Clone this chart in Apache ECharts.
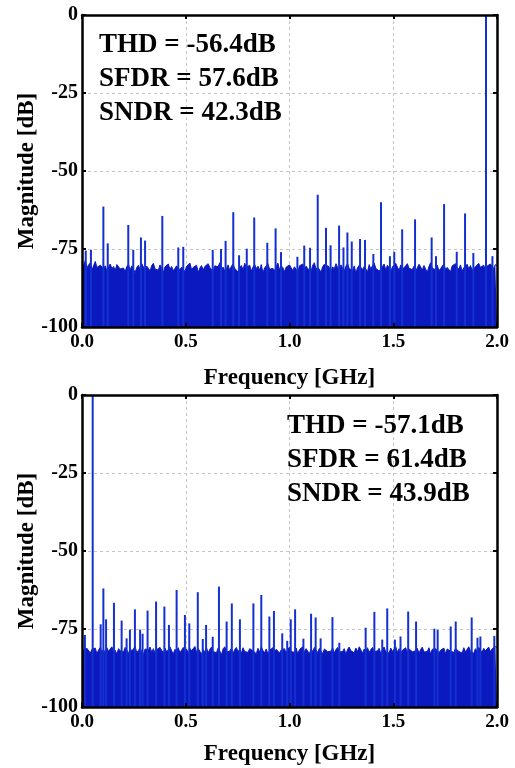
<!DOCTYPE html>
<html>
<head>
<meta charset="utf-8">
<script src="https://cdn.jsdelivr.net/npm/echarts@6/dist/echarts.min.js"></script>
<style>
html,body{margin:0;padding:0;background:#fff;}
#chart{width:515px;height:768px;}
</style>
</head>
<body>
<div id="chart"></div>
<script>
// ---------- DATA ----------
const binStepGHz = 0.008;
const xTicks = [0.0, 0.5, 1.0, 1.5, 2.0];
const yTicks = [-100, -75, -50, -25, 0];

const topNoise = [
-79.2,-80.5,-78.6,-81.0,-80.1,-79.4,-81.8,-80.3,-79.0,-80.9,-81.5,-80.2,-79.6,-81.2,-80.4,-82.0,-80.7,-79.8,-81.3,-80.6,-81.9,-80.0,-79.5,-81.4,-80.8,
-81.1,-82.3,-80.6,-79.9,-81.7,-80.4,-81.0,-82.6,-80.9,-80.2,-81.6,-79.7,-80.8,-81.9,-80.5,-81.2,-82.1,-80.3,-79.6,-81.4,-80.9,-81.8,-80.1,-81.3,-82.4,
-80.7,-81.0,-79.8,-81.5,-80.6,-82.0,-81.2,-80.4,-79.9,-81.7,-80.8,-81.3,-82.2,-80.5,-81.0,-79.5,-81.6,-80.9,-81.4,-80.2,-82.5,-81.1,-80.3,-81.8,-80.6,
-81.2,-79.7,-80.9,-81.5,-82.3,-80.4,-81.0,-80.7,-79.4,-81.6,-80.8,-82.0,-81.3,-80.1,-81.9,-80.5,-79.8,-81.2,-80.6,-82.4,-81.0,-80.3,-81.7,-79.6,-80.9,
-81.4,-80.2,-82.1,-80.8,-79.9,-81.3,-80.5,-81.8,-80.0,-82.6,-81.1,-80.4,-79.7,-81.5,-80.9,-81.2,-82.0,-80.6,-79.5,-81.7,-80.3,-81.0,-82.3,-80.8,-81.4,
-80.1,-79.6,-81.9,-80.7,-81.2,-82.5,-80.4,-81.0,-79.8,-81.6,-80.5,-81.3,-80.9,-82.1,-80.2,-79.4,-81.5,-80.8,-81.1,-82.4,-80.6,-79.9,-81.7,-80.3,-81.0,
-82.2,-80.7,-81.4,-79.7,-80.9,-81.8,-80.1,-81.2,-82.0,-80.5,-79.6,-81.3,-80.8,-81.9,-80.4,-82.7,-81.0,-80.2,-79.9,-81.6,-80.6,-81.1,-82.3,-80.0,-81.5,
-80.3,-79.5,-81.2,-80.9,-82.1,-81.4,-80.6,-79.8,-81.7,-80.2,-81.0,-82.4,-80.7,-81.3,-79.6,-80.8,-81.9,-80.1,-81.5,-82.0,-80.4,-79.7,-81.2,-80.9,-81.6,
-80.5,-82.2,-81.0,-79.9,-80.7,-81.8,-80.3,-81.4,-82.5,-80.6,-79.4,-81.1,-80.8,-81.7,-80.2,-82.0,-81.3,-80.5,-79.8,-81.6,-80.9,-81.2,-82.3,-80.4,-81.0,
-79.7,-80.8,-81.5,-80.1,-82.1,-81.0,-80.6,-79.9,-81.4,-80.3,-81.8,-82.4,-80.7,-81.2,-79.6,-80.9,-81.5,-80.2,-81.9,-80.5,-81.1,-79.8,-80.6,-81.3,-80.0,-80.4
];

const bottomNoise = [
-80.6,-81.9,-82.4,-81.2,-80.8,-82.7,-81.5,-82.0,-81.1,-83.0,-81.7,-80.9,-82.3,-81.6,-82.8,-81.0,-82.2,-81.4,-80.7,-82.5,-81.8,-83.1,-81.3,-82.0,-81.6,
-82.4,-80.9,-81.7,-82.9,-81.2,-82.1,-81.5,-80.6,-82.6,-81.9,-81.0,-82.3,-83.2,-81.4,-82.0,-81.7,-80.8,-82.5,-81.3,-82.8,-81.6,-82.2,-80.9,-81.8,-82.7,
-81.1,-82.4,-81.6,-80.7,-82.0,-83.0,-81.5,-82.2,-81.0,-82.6,-81.8,-80.9,-82.3,-81.4,-82.9,-81.2,-82.0,-81.7,-80.6,-82.5,-81.3,-82.1,-83.1,-81.6,-82.4,
-81.0,-82.7,-81.5,-80.8,-82.2,-81.9,-82.6,-81.1,-82.0,-83.3,-81.4,-80.7,-82.4,-81.8,-82.1,-81.2,-82.9,-81.6,-80.9,-82.3,-81.5,-82.8,-81.0,-82.2,-81.7,
-82.5,-81.3,-80.8,-82.0,-81.6,-82.9,-81.2,-82.4,-80.7,-81.9,-82.6,-81.4,-83.0,-81.8,-82.1,-81.0,-82.3,-81.5,-80.9,-82.7,-81.7,-82.0,-81.3,-82.8,-81.6,
-80.8,-82.2,-81.9,-82.5,-81.1,-83.1,-81.6,-82.0,-80.7,-82.4,-81.3,-81.8,-82.9,-81.5,-82.2,-80.9,-81.7,-82.6,-81.2,-82.0,-83.0,-81.4,-80.8,-82.3,-81.9,
-82.1,-81.0,-82.7,-81.6,-80.9,-82.4,-81.8,-82.2,-81.3,-83.2,-81.5,-80.8,-82.0,-81.9,-82.6,-81.1,-82.3,-80.7,-81.7,-82.8,-81.4,-82.1,-81.0,-82.5,-81.6,
-80.9,-82.3,-81.7,-82.0,-81.2,-82.9,-81.5,-80.8,-82.4,-81.9,-82.7,-81.1,-82.2,-81.6,-80.7,-82.5,-81.3,-83.0,-81.8,-82.1,-81.0,-82.6,-81.4,-80.9,-82.3,
-81.7,-82.0,-81.2,-82.8,-81.6,-80.8,-82.4,-81.9,-82.2,-81.0,-83.1,-81.5,-82.0,-81.3,-80.7,-82.6,-81.8,-82.3,-81.1,-82.9,-81.4,-80.9,-82.1,-81.7,-82.5,
-81.2,-80.8,-82.2,-81.6,-82.7,-81.0,-82.4,-81.9,-80.7,-82.1,-81.5,-82.8,-81.3,-82.0,-80.9,-81.7,-82.5,-81.2,-82.0,-81.6,-80.8,-82.3,-81.4,-81.9,-80.6,-81.0
];

const topSpurFreq = [0.018,0.043,0.103,0.124,0.223,0.247,0.284,0.304,0.387,0.464,0.488,0.630,0.670,0.692,0.729,0.757,0.794,0.830,0.893,0.933,0.959,1.038,1.071,1.099,1.136,1.176,1.198,1.239,1.260,1.279,1.300,1.340,1.364,1.404,1.441,1.484,1.505,1.543,1.605,1.685,1.706,1.745,1.806,1.846,1.886,1.947,1.978];
const topSpurDb   = [-75.5,-75.3,-61.4,-73.2,-67.3,-75.3,-71.3,-72.3,-64.4,-74.5,-74.3,-75.3,-75.0,-72.4,-63.2,-77.0,-74.9,-64.9,-73.0,-68.4,-76.0,-77.5,-73.9,-74.6,-57.6,-68.2,-73.8,-67.5,-74.5,-69.7,-72.6,-71.8,-72.1,-76.6,-60.0,-77.3,-75.9,-68.7,-65.5,-71.3,-77.3,-60.6,-75.9,-63.6,-76.3,0,-77.3];

const bottomSpurFreq = [0.014,0.0515,0.090,0.103,0.116,0.154,0.191,0.215,0.231,0.255,0.280,0.292,0.316,0.357,0.397,0.419,0.456,0.496,0.517,0.558,0.582,0.598,0.630,0.660,0.697,0.722,0.761,0.826,0.864,0.903,0.925,0.965,0.989,1.006,1.027,1.067,1.104,1.126,1.150,1.207,1.240,1.367,1.409,1.447,1.471,1.508,1.535,1.572,1.610,1.698,1.714,1.777,1.801,1.878,1.906,1.920,1.987];
const bottomSpurDb   = [-76.9,0,-73.5,-62.0,-71.9,-66.6,-72.3,-78.0,-75.2,-68.7,-75.2,-76.5,-69.1,-66.2,-67.8,-73.7,-62.5,-70.5,-73.2,-63.2,-78.2,-73.7,-77.5,-61.4,-72.6,-66.8,-71.9,-66.8,-64.1,-71.0,-69.2,-76.4,-78.8,-71.9,-68.7,-78.1,-70.1,-71.3,-78.0,-71.2,-79.4,-74.6,-69.5,-78.4,-68.4,-78.4,-77.4,-69.4,-72.6,-74.9,-75.3,-74.2,-72.6,-71.3,-77.8,-77.4,-77.2];

const topText = ['THD = -56.4dB', 'SFDR = 57.6dB', 'SNDR = 42.3dB'];
const bottomText = ['THD = -57.1dB', 'SFDR = 61.4dB', 'SNDR = 43.9dB'];

const xName = 'Frequency [GHz]';
const yName = 'Magnitude [dB]';

// ---------- CHART ----------
const FONT = '"Liberation Serif","Times New Roman",serif';
const FILL = '#0a1abf';
const SPUR = '#1530d0';

function pairs(noise){ return noise.map((v,i)=>[+(i*binStepGHz).toFixed(4), v]); }
function spurPairs(f, d){ return f.map((x,i)=>[x, d[i]]); }

const grids = [
  {left:82, right:18, top:15, height:312},
  {left:82, right:18, top:395, height:312}
];

const axLine = {show:true, onZero:false, lineStyle:{color:'#000', width:2.5}};
const axTick = {show:true, inside:true, length:4, lineStyle:{color:'#000', width:2}};
const gridLine = {show:true, lineStyle:{color:'#c4c4c4', type:[3,3], width:1}};

// per grid: [0] bottom (labels, z high), [1] top mirror, [2] hidden split-line carrier (z low)
function xAxes(gi, nameGap){
  const base = {type:'value', gridIndex:gi, min:xTicks[0], max:xTicks[xTicks.length-1], interval:0.5};
  return [
    Object.assign({}, base, {position:'bottom', z:10,
      name:xName, nameLocation:'middle', nameGap:nameGap, nameMoveOverlap:false,
      nameTextStyle:{fontFamily:FONT, fontWeight:'bold', fontSize:23, color:'#000'},
      axisLine:axLine, axisTick:axTick,
      axisLabel:{show:true, fontFamily:FONT, fontWeight:'bold', fontSize:19, color:'#000', margin:6,
        formatter:v=>v.toFixed(1)},
      splitLine:{show:false}}),
    Object.assign({}, base, {position:'top', z:10, axisLine:axLine, axisTick:axTick,
      axisLabel:{show:false}, splitLine:{show:false}}),
    Object.assign({}, base, {position:'bottom', z:0, axisLine:{show:false}, axisTick:{show:false},
      axisLabel:{show:false}, splitLine:gridLine})
  ];
}
function yAxes(gi){
  const base = {type:'value', gridIndex:gi, min:yTicks[0], max:yTicks[yTicks.length-1], interval:25};
  return [
    Object.assign({}, base, {position:'left', z:10,
      name:yName, nameLocation:'middle', nameGap:43, nameMoveOverlap:false,
      nameTextStyle:{fontFamily:FONT, fontWeight:'bold', fontSize:23, color:'#000'},
      axisLine:axLine, axisTick:axTick,
      axisLabel:{show:true, fontFamily:FONT, fontWeight:'bold', fontSize:20, color:'#000', margin:4},
      splitLine:{show:false}}),
    Object.assign({}, base, {position:'right', z:10, axisLine:axLine, axisTick:axTick,
      axisLabel:{show:false}, splitLine:{show:false}}),
    Object.assign({}, base, {position:'left', z:0, axisLine:{show:false}, axisTick:{show:false},
      axisLabel:{show:false}, splitLine:gridLine})
  ];
}

function spurRender(params, api){
  const f = api.value(0), v = api.value(1);
  const p0 = api.coord([f, -100]);
  const p1 = api.coord([f, v]);
  return {type:'line', shape:{x1:p0[0], y1:p0[1], x2:p1[0], y2:p1[1]},
    style:{stroke:SPUR, lineWidth:2}};
}

function noiseSeries(xi, yi, noise){
  return {type:'line', xAxisIndex:xi, yAxisIndex:yi, data:pairs(noise), showSymbol:false, symbol:'none',
    sampling:null, lineStyle:{color:FILL, width:1}, areaStyle:{color:FILL, opacity:1, origin:'start'},
    z:3, silent:true, animation:false};
}
function spurSeries(xi, yi, f, d){
  return {type:'custom', xAxisIndex:xi, yAxisIndex:yi, data:spurPairs(f,d), renderItem:spurRender,
    encode:{x:0, y:1}, clip:true, z:4, silent:true, animation:false};
}

function textBlock(lines, left, top){
  return lines.map((t,i)=>({type:'text', left:left, top:top + i*34,
    style:{text:t, font:'bold 27px ' + FONT, fill:'#000'}, z:20}));
}

const option = {
  animation:false,
  backgroundColor:'#fff',
  grid:grids,
  xAxis:[...xAxes(0, 40), ...xAxes(1, 36)],
  yAxis:[...yAxes(0), ...yAxes(1)],
  series:[
    noiseSeries(0, 0, topNoise),
    spurSeries(0, 0, topSpurFreq, topSpurDb),
    noiseSeries(3, 3, bottomNoise),
    spurSeries(3, 3, bottomSpurFreq, bottomSpurDb)
  ],
  graphic:[...textBlock(topText, 99, 32), ...textBlock(bottomText, 287, 413)]
};

const chart = echarts.init(document.getElementById('chart'), null, {renderer:'canvas'});
chart.setOption(option);
</script>
</body>
</html>
